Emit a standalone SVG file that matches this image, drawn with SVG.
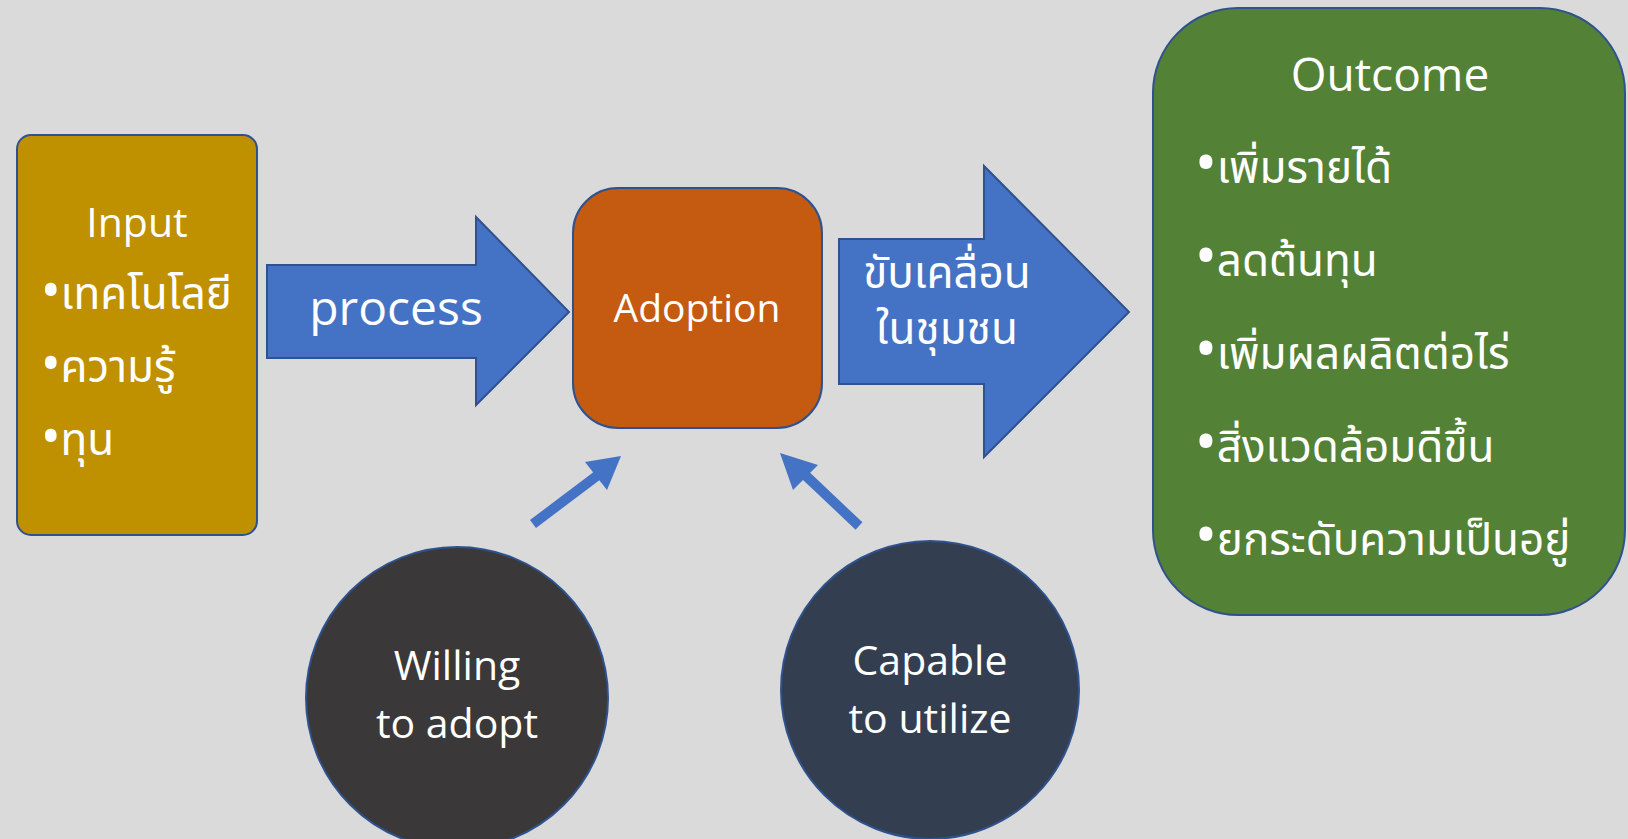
<svg xmlns="http://www.w3.org/2000/svg" width="1628" height="839" viewBox="0 0 1628 839">
<style>
.t{font-family:"Open Sans","Noto Sans","Noto Sans Thai","Leelawadee UI",sans-serif;fill:#fff}
.th{font-family:"Noto Sans","Noto Sans Thai","Leelawadee UI","Open Sans",sans-serif;fill:#fff;font-size:44px}
.b{font-size:58px}
.bi{font-size:52px}
.bs{stroke:#2F528F;stroke-width:2}
.arr{fill:#4472C4;stroke:#2F528F;stroke-width:2}
</style>
<rect width="1628" height="839" fill="#DADADA"/>
<g id="connectors">
<polygon class="arr" points="267,265 476,265 476,217 569,312 476,405 476,358 267,358"/>
<polygon class="arr" points="839,239 984,239 984,166 1129,312 984,457 984,384 839,384"/>
<path d="M533,524 L598,475" stroke="#4472C4" stroke-width="10" fill="none"/>
<polygon points="621,456 607,490 585,462" fill="#4472C4"/>
<path d="M859,526 L803,473" stroke="#4472C4" stroke-width="10" fill="none"/>
<polygon points="780,453 818,465 793,490" fill="#4472C4"/>
<text class="t" x="396" y="325" font-size="48" text-anchor="middle">process</text>
<text class="th" x="947" y="288" text-anchor="middle">ขับเคลื่อน</text>
<text class="th" x="947" y="344" text-anchor="middle">ในชุมชน</text>
</g>
<g id="input">
<rect class="bs" x="17" y="135" width="240" height="400" rx="14" fill="#BF9000"/>
<text class="t" x="137" y="237" font-size="41" text-anchor="middle">Input</text>
<text class="th" x="41" y="309"><tspan class="bi">•</tspan>เทคโนโลยี</text>
<text class="th" x="41" y="382"><tspan class="bi">•</tspan>ความรู้</text>
<text class="th" x="41" y="455"><tspan class="bi">•</tspan>ทุน</text>
</g>
<g id="adoption">
<rect class="bs" x="573" y="188" width="249" height="240" rx="45" fill="#C55A11"/>
<text class="t" x="697" y="322" font-size="39" text-anchor="middle">Adoption</text>
</g>
<g id="outcome">
<rect class="bs" x="1153" y="8" width="472" height="607" rx="85" fill="#538135"/>
<text class="t" x="1390" y="91" font-size="46" text-anchor="middle">Outcome</text>
<text class="th" x="1195" y="183"><tspan class="b">•</tspan>เพิ่มรายได้</text>
<text class="th" x="1195" y="276"><tspan class="b">•</tspan>ลดต้นทุน</text>
<text class="th" x="1195" y="369"><tspan class="b">•</tspan>เพิ่มผลผลิตต่อไร่</text>
<text class="th" x="1195" y="462"><tspan class="b">•</tspan>สิ่งแวดล้อมดีขึ้น</text>
<text class="th" x="1195" y="555"><tspan class="b">•</tspan>ยกระดับความเป็นอยู่</text>
</g>
<g id="willing">
<circle class="bs" cx="457" cy="698" r="151" fill="#3A3838"/>
<text class="t" x="457" y="680" font-size="41" text-anchor="middle">Willing</text>
<text class="t" x="457" y="738" font-size="41" text-anchor="middle">to adopt</text>
</g>
<g id="capable">
<circle class="bs" cx="930" cy="690" r="149" fill="#333F50"/>
<text class="t" x="930" y="675" font-size="41" text-anchor="middle">Capable</text>
<text class="t" x="930" y="733" font-size="41" text-anchor="middle">to utilize</text>
</g>
</svg>
